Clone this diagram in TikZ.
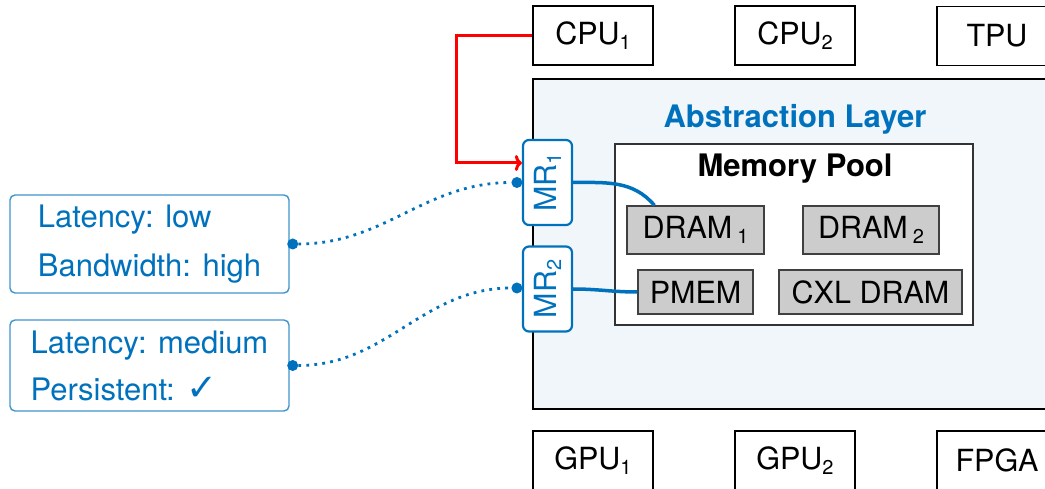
\documentclass[tikz,border=0pt]{standalone}
\usepackage{fontspec}
\usepackage{graphicx}
\setmainfont{TeX Gyre Heros}
\newfontfamily\symfont{DejaVu Sans}
\usetikzlibrary{calc,arrows.meta}

\definecolor{layerblue}{RGB}{0,114,189}
\definecolor{layerfill}{RGB}{241,246,251}
\definecolor{chipgray}{RGB}{204,204,204}

% lowered, smaller index digit in the text font
\newcommand\lowsub[1]{\raisebox{-5pt}{\fontsize{20}{20}\selectfont #1}}

\begin{document}
\begin{tikzpicture}[x=1pt,y=1pt,
  basefont/.style={font=\fontsize{30.5}{36}\selectfont},
  devbox/.style={basefont, draw=black, fill=white, minimum width=120, minimum height=59, inner sep=0},
  thickdev/.style={devbox, line width=2},
  thindev/.style={devbox, line width=1.2},
  chip/.style={basefont, draw=black!75, fill=chipgray, line width=1.2, inner sep=0},
  mrbox/.style={basefont, draw=layerblue, fill=white, rounded corners=6, line width=2.2,
                minimum width=49, minimum height=85, inner sep=0, text=layerblue},
  propbox/.style={draw=layerblue!75, fill=white, rounded corners=5, line width=1.4,
                  minimum width=279, inner sep=0, align=left, text=layerblue},
  wire/.style={draw=layerblue, line width=3.5},
  dotwire/.style={draw=layerblue, line width=2.8, dash pattern=on 2.8pt off 5.2pt},
  enddot/.style={circle, fill=layerblue, inner sep=0, minimum size=11},
  reqarrow/.style={draw=red, line width=3, -{To[length=7pt,width=16pt]}},
  titletext/.style={font=\fontsize{31}{36}\selectfont\bfseries, inner sep=0, anchor=base}
]
\useasboundingbox (0,0) rectangle (1045,-489);
\clip (0,0) rectangle (1045,-489);

% abstraction layer and memory pool
\node[draw=black, fill=layerfill, line width=1.3, minimum width=524, minimum height=330, inner sep=0] (layer) at (795,-244) {};
\node[titletext, text=layerblue] (layertitle) at (795,-127.5) {Abstraction Layer};
\node[draw=black!80, fill=white, line width=1.3, minimum width=358, minimum height=181, inner sep=0] (pool) at (794,-234.5) {};
\node[titletext] (pooltitle) at (795,-176.5) {Memory Pool};

% memory devices
\node[chip, minimum width=137, minimum height=48] (dram1) at (695.5,-230) {DRAM\,\lowsub{1}};
\node[chip, minimum width=136, minimum height=48] (dram2) at (871,-230) {DRAM\,\lowsub{2}};
\node[chip, minimum width=115, minimum height=44] (pmem) at (695.5,-292) {PMEM};
\node[chip, minimum width=183, minimum height=44] (cxl) at (870.5,-292) {CXL DRAM};

% compute devices
\node[thickdev] (cpu1) at (593,-35.5) {CPU\lowsub{1}};
\node[thickdev] (cpu2) at (795,-35.5) {CPU\lowsub{2}};
\node[thindev] (tpu) at (997,-36) {TPU};
\node[thindev] (gpu1) at (593,-460.5) {GPU\lowsub{1}};
\node[thindev] (gpu2) at (795,-460.5) {GPU\lowsub{2}};
\node[thindev] (fpga) at (997,-460.5) {FPGA};

% memory regions
\node[mrbox] (mr1) at (547.5,-182.5) {\rotatebox{90}{MR\lowsub{1}}};
\node[mrbox] (mr2) at (547.5,-289) {\rotatebox{90}{MR\lowsub{2}}};

\draw[wire] (mr1.east) to[out=0,in=130] ($(dram1.north west)+(28,0)$);
\draw[wire] (mr2.east) to[out=0,in=180] (pmem.west);

% region properties
\node[propbox, minimum height=98, font=\fontsize{31}{49}\selectfont] (props1) at (149.5,-244)
  {Latency: low\\Bandwidth: high};
\node[propbox, minimum height=91, font=\fontsize{31}{47}\selectfont] (props2) at (149.5,-365.5)
  {Latency: medium\\Persistent: {\symfont\bfseries\fontsize{37}{47}\selectfont ✓}};

\node[enddot] (p1dot) at ($(props1.east)+(3,0)$) {};
\node[enddot] (m1dot) at ($(mr1.west)+(-5,0)$) {};
\node[enddot] (p2dot) at ($(props2.east)+(3,0)$) {};
\node[enddot] (m2dot) at ($(mr2.west)+(-5,1)$) {};
\draw[dotwire] (p1dot) to[out=0,in=180] (m1dot);
\draw[dotwire] (p2dot) to[out=0,in=180] (m2dot);

% allocation request
\draw[reqarrow] (cpu1.west) -- ++(-76,0) |- ($(mr1.west)+(0,19.5)$);
\end{tikzpicture}
\end{document}
